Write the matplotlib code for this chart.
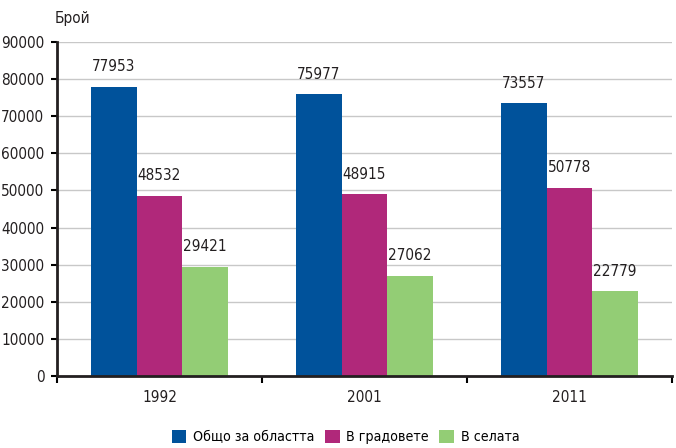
import numpy as np
import matplotlib.pyplot as plt
from matplotlib import font_manager as fm

years = ["1992", "2001", "2011"]
total = [77953, 75977, 73557]
cities = [48532, 48915, 50778]
villages = [29421, 27062, 22779]
series_names = ["Общо за областта", "В градовете", "В селата"]
colors = ["#00529b", "#b0287a", "#93cd75"]

# pick a narrow face if one is available
names = {f.name for f in fm.fontManager.ttflist}
narrow = [f for f in fm.fontManager.ttflist
          if f.stretch in ("condensed", "semi-condensed", "extra-condensed")]
if "Liberation Sans Narrow" in names:
    plt.rcParams["font.family"] = ["Liberation Sans Narrow", "DejaVu Sans"]
elif narrow:
    plt.rcParams["font.family"] = [narrow[0].name, "DejaVu Sans"]
    plt.rcParams["font.stretch"] = narrow[0].stretch
else:
    plt.rcParams["font.family"] = ["DejaVu Sans"]
plt.rcParams["font.size"] = 11

fig = plt.figure(figsize=(6.76, 4.48), dpi=100)
ax = fig.add_axes([0.0843, 0.1607, 0.9097, 0.7455])

x = np.arange(len(years))
w = 0.223
for i, (vals, name, c) in enumerate(zip([total, cities, villages], series_names, colors)):
    pos = x + (i - 1) * w
    ax.bar(pos, vals, width=w, color=c, label=name, zorder=3)
    for px, v in zip(pos, vals):
        ax.annotate(str(v), (px, v), xytext=(0, 9), textcoords="offset points",
                    ha="center", va="bottom", fontsize=11, color="#231f20")

ax.set_xlim(-0.5, 2.5)
ax.set_ylim(0, 90000)
ax.set_yticks(np.arange(0, 90001, 10000))
ax.set_yticklabels([str(v) for v in range(0, 90001, 10000)], color="#231f20")
ax.set_xticks(x)
ax.set_xticklabels(years, color="#231f20")
ax.set_xticks([-0.5, 0.5, 1.5, 2.5], minor=True)
ax.tick_params(axis="x", which="major", length=0, pad=10)
ax.tick_params(axis="x", which="minor", length=5, width=1.5, direction="out")
ax.tick_params(axis="y", length=4, width=1.5, direction="out", pad=5)

ax.grid(axis="y", color="#c8c8c8", linewidth=1, zorder=0)
for s in ["top", "right"]:
    ax.spines[s].set_visible(False)
for s in ["left", "bottom"]:
    ax.spines[s].set_linewidth(2)
    ax.spines[s].set_color("#231f20")
    ax.spines[s].set_zorder(4)

fig.text(0.081, 0.958, "Брой", fontsize=11, color="#231f20", va="center")

fig.legend(loc="center", bbox_to_anchor=(0.511, 0.024), ncol=3, frameon=False,
           handlelength=1.05, handleheight=1.05, handletextpad=0.45, columnspacing=0.75,
           fontsize=10.2)

fig.savefig("out.png", dpi=100)
